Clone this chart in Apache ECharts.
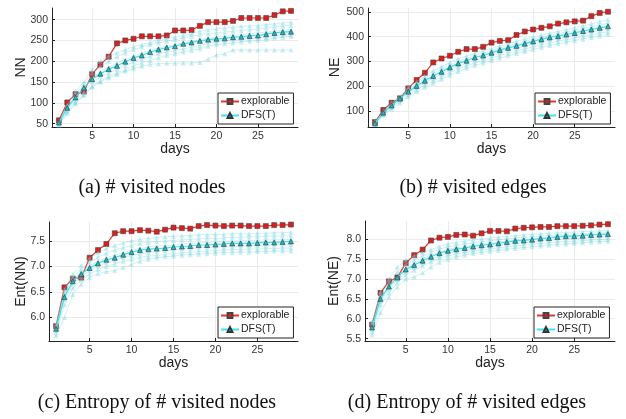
<!DOCTYPE html>
<html>
<head>
	<meta charset="utf-8">
	<title>explorable vs DFS(T)</title>
	<style>
		* { padding: 0; margin: 0; }
		body { background: #fff; }
	</style>
</head>
<body>
	<div id="main" style="width:626px;height:419px;"></div>
<script src="https://cdn.jsdelivr.net/npm/echarts@6/dist/echarts.min.js"></script>
<script>
	var days = [1,2,3,4,5,6,7,8,9,10,11,12,13,14,15,16,17,18,19,20,21,22,23,24,25,26,27,28,29];

	// (a) NN
	var nnExplorable = [58,101,121,127,169,192,211,243,250,254,260,260,260,262,274,274,275,285,294,294,294,297,304,304,304,304,311,320,321];
	var nnDfs = [53,88,113,136,157,170,181,189,199,208,214,222,228,233,236,242,245,249,252,254,255,258,259,261,262,265,268,270,271];
	var nnRuns = [
		[55,95,128,150,180,200,212,220,228,235,240,245,250,255,258,262,266,272,276,278,280,282,284,285,286,288,290,292,294],
		[54,92,120,145,172,188,200,210,220,228,234,240,244,248,252,256,260,264,266,268,270,272,274,276,278,280,282,284,286],
		[53,88,114,136,160,175,186,196,205,212,220,226,232,236,240,244,248,252,255,258,260,262,264,266,268,270,272,274,276],
		[50,82,105,126,150,162,172,180,190,198,205,212,218,222,226,230,234,238,244,246,248,250,252,254,256,258,260,262,264],
		[48,78,100,120,140,152,164,172,180,188,196,202,208,214,218,222,226,230,236,240,242,244,246,248,250,252,256,258,260],
		[46,75,98,118,138,150,160,168,176,182,188,193,194,195,195,196,196,197,205,215,218,227,227,227,227,227,227,227,227]
	];

	// (b) NE
	var neExplorable = [55,104,133,151,191,225,254,296,312,323,339,350,350,359,376,383,386,407,421,429,436,442,453,458,462,465,483,496,501];
	var neDfs = [50,93,122,150,178,201,222,241,258,276,292,303,316,324,335,346,355,363,372,381,389,397,402,409,415,423,429,436,442];
	var neRuns = [
		[56,100,132,160,195,218,240,262,280,296,310,322,333,342,352,362,372,381,390,398,406,414,421,428,436,444,452,460,470],
		[54,97,128,156,188,210,232,252,270,286,300,312,324,333,344,354,364,372,381,390,398,406,412,419,426,433,440,447,455],
		[52,94,124,152,181,204,225,244,262,279,294,306,318,327,338,349,358,366,375,384,392,400,406,413,419,426,432,439,446],
		[49,90,119,146,172,194,214,232,249,266,281,293,305,314,325,336,345,353,362,371,379,387,393,400,406,413,419,426,432],
		[47,86,114,140,165,186,205,222,238,255,270,283,294,304,314,324,333,342,350,359,367,375,382,388,394,401,407,414,420],
		[45,82,108,132,158,177,196,212,228,244,259,272,284,294,304,314,323,332,340,348,356,364,371,378,384,390,397,403,410]
	];

	// (c) Ent(NN)
	var entNnExplorable = [5.83,6.59,6.76,6.78,7.17,7.32,7.44,7.65,7.69,7.69,7.71,7.70,7.68,7.72,7.76,7.75,7.74,7.79,7.81,7.80,7.79,7.80,7.80,7.79,7.79,7.79,7.81,7.81,7.82];
	var entNnDfs = [5.78,6.40,6.71,6.85,6.97,7.06,7.13,7.17,7.23,7.28,7.32,7.34,7.35,7.36,7.38,7.39,7.40,7.42,7.42,7.43,7.44,7.45,7.45,7.45,7.46,7.47,7.47,7.48,7.49];
	var entNnRuns = [
		[5.86,6.55,6.85,7.02,7.16,7.27,7.35,7.41,7.46,7.50,7.53,7.55,7.57,7.58,7.59,7.60,7.61,7.62,7.62,7.63,7.63,7.64,7.64,7.64,7.65,7.65,7.66,7.66,7.67],
		[5.83,6.48,6.79,6.95,7.08,7.18,7.26,7.32,7.37,7.41,7.45,7.47,7.49,7.50,7.51,7.52,7.53,7.54,7.55,7.55,7.56,7.57,7.57,7.58,7.58,7.59,7.59,7.60,7.60],
		[5.80,6.43,6.74,6.89,7.01,7.10,7.17,7.22,7.27,7.32,7.35,7.38,7.40,7.41,7.42,7.44,7.45,7.46,7.47,7.48,7.49,7.50,7.50,7.51,7.51,7.52,7.52,7.53,7.53],
		[5.75,6.35,6.66,6.80,6.92,7.01,7.07,7.12,7.17,7.21,7.25,7.27,7.29,7.31,7.32,7.34,7.35,7.36,7.37,7.38,7.38,7.39,7.40,7.40,7.41,7.41,7.42,7.42,7.43],
		[5.70,6.25,6.58,6.73,6.85,6.94,7.00,7.05,7.10,7.14,7.18,7.20,7.22,7.24,7.25,7.27,7.28,7.29,7.30,7.31,7.32,7.33,7.33,7.34,7.34,7.35,7.35,7.36,7.36],
		[5.65,6.00,6.45,6.65,6.78,6.86,6.90,6.92,6.98,7.04,7.10,7.14,7.17,7.19,7.20,7.22,7.23,7.24,7.25,7.26,7.27,7.27,7.28,7.28,7.29,7.29,7.30,7.30,7.30]
	];

	// (d) Ent(NE)
	var entNeExplorable = [5.85,6.65,6.94,7.04,7.40,7.60,7.74,7.97,8.04,8.06,8.11,8.12,8.09,8.15,8.21,8.21,8.20,8.27,8.29,8.30,8.31,8.31,8.33,8.33,8.33,8.34,8.35,8.37,8.38];
	var entNeDfs = [5.78,6.50,6.81,7.04,7.24,7.35,7.46,7.56,7.65,7.71,7.75,7.78,7.82,7.85,7.87,7.90,7.93,7.96,7.97,7.99,8.02,8.03,8.06,8.08,8.08,8.09,8.11,8.12,8.13];
	var entNeRuns = [
		[5.92,6.68,7.00,7.30,7.48,7.58,7.66,7.74,7.82,7.88,7.92,7.95,7.98,8.01,8.03,8.05,8.07,8.09,8.11,8.12,8.14,8.15,8.16,8.17,8.18,8.19,8.20,8.21,8.22],
		[5.86,6.60,6.92,7.18,7.37,7.48,7.58,7.67,7.75,7.81,7.85,7.88,7.91,7.94,7.96,7.99,8.01,8.03,8.05,8.06,8.08,8.09,8.11,8.12,8.13,8.14,8.15,8.16,8.17],
		[5.80,6.52,6.84,7.08,7.27,7.39,7.50,7.60,7.68,7.74,7.78,7.82,7.85,7.88,7.90,7.93,7.95,7.98,8.00,8.01,8.03,8.05,8.07,8.08,8.09,8.10,8.12,8.13,8.14],
		[5.74,6.44,6.74,6.98,7.17,7.29,7.40,7.50,7.58,7.64,7.69,7.72,7.76,7.79,7.81,7.84,7.87,7.89,7.91,7.93,7.95,7.97,7.99,8.00,8.01,8.02,8.04,8.05,8.06],
		[5.68,6.35,6.65,6.90,7.10,7.22,7.33,7.43,7.52,7.58,7.63,7.67,7.70,7.73,7.76,7.78,7.81,7.83,7.85,7.87,7.89,7.91,7.93,7.94,7.95,7.96,7.98,7.99,8.00],
		[5.60,6.15,6.55,6.80,7.00,7.05,7.15,7.30,7.42,7.50,7.56,7.60,7.64,7.67,7.70,7.72,7.75,7.77,7.79,7.81,7.83,7.85,7.87,7.88,7.90,7.91,7.93,7.94,7.95]
	];

	var panels = [
		{ name: 'NN', expl: nnExplorable, dfs: nnDfs, runs: nnRuns, ymin: 42, ymax: 328, dec: 0,
		  grid: { left: 52, top: 8, width: 246, height: 119 }, gap: 24, legend: { left: 218, top: 93 } },
		{ name: 'NE', expl: neExplorable, dfs: neDfs, runs: neRuns, ymin: 35, ymax: 516, dec: 0,
		  grid: { left: 368, top: 8, width: 247, height: 119 }, gap: 26, legend: { left: 535, top: 93 } },
		{ name: 'Ent(NN)', expl: entNnExplorable, dfs: entNnDfs, runs: entNnRuns, ymin: 5.54, ymax: 7.87, dec: 1,
		  grid: { left: 49, top: 222, width: 249, height: 119 }, gap: 21, legend: { left: 218, top: 307 } },
		{ name: 'Ent(NE)', expl: entNeExplorable, dfs: entNeDfs, runs: entNeRuns, ymin: 5.44, ymax: 8.46, dec: 1,
		  grid: { left: 365, top: 221, width: 250, height: 120 }, gap: 24, legend: { left: 534, top: 307 } }
	];

	var captions = [
		{ text: '(a) # visited nodes', x: 152, y: 188 },
		{ text: '(b) # visited edges', x: 473, y: 188 },
		{ text: '(c) Entropy of # visited nodes', x: 157, y: 403 },
		{ text: '(d) Entropy of # visited edges', x: 467, y: 403 }
	];

	function pairs(vals) {
		return days.map(function (d, i) { return [d, vals[i]]; });
	}

	var font = 'Liberation Sans';
	var grids = [], xAxes = [], yAxes = [], legends = [], series = [];

	panels.forEach(function (p, k) {
		grids.push(p.grid);
		xAxes.push({
			type: 'value', gridIndex: k, min: 0.16, max: 29.84,
			name: 'days', nameLocation: 'middle', nameGap: 15, nameMoveOverlap: false,
			nameTextStyle: { fontFamily: font, fontSize: 14, color: '#222', verticalAlign: 'top' },
			axisLine: { lineStyle: { color: '#222', width: 1 } },
			axisTick: { inside: true, length: 3, lineStyle: { color: '#222' } },
			axisLabel: { showMinLabel: false, showMaxLabel: false, fontFamily: font, fontSize: 10.5, color: '#333', margin: 4 },
			splitLine: { show: true, showMinLine: false, showMaxLine: false, lineStyle: { color: '#ebebeb', width: 1 } }
		});
		yAxes.push({
			type: 'value', gridIndex: k, min: p.ymin, max: p.ymax,
			name: p.name, nameLocation: 'middle', nameGap: p.gap, nameMoveOverlap: false,
			nameTextStyle: { fontFamily: font, fontSize: 14, color: '#222' },
			axisLine: { show: true, lineStyle: { color: '#222', width: 1 } },
			axisTick: { show: true, inside: true, length: 3, lineStyle: { color: '#222' } },
			axisLabel: {
				showMinLabel: false, showMaxLabel: false, fontFamily: font, fontSize: 10.5, color: '#333', margin: 4,
				formatter: function (v) { return v.toFixed(p.dec); }
			},
			splitLine: { show: true, showMinLine: false, showMaxLine: false, lineStyle: { color: '#ebebeb', width: 1 } }
		});
		legends.push({
			orient: 'vertical', left: p.legend.left, top: p.legend.top,
			data: ['explorable', 'DFS(T)'],
			backgroundColor: '#fff', borderColor: '#222', borderWidth: 1, borderRadius: 0,
			padding: [3, 4, 3, 2], itemGap: 3, itemWidth: 18, itemHeight: 6,
			textStyle: { fontFamily: font, fontSize: 10.5, color: '#222', padding: [0, 0, 0, -3] }
		});

		series.push({
			name: 'explorable', type: 'line', xAxisIndex: k, yAxisIndex: k,
			data: pairs(p.expl), symbol: 'rect', symbolSize: 5,
			lineStyle: { color: '#e8352e', width: 1.2 },
			itemStyle: { color: '#d91f1f', borderColor: '#444', borderWidth: 0.6 },
			animation: false, z: 3
		});
		p.runs.forEach(function (r) {
			series.push({
				name: 'run', type: 'line', xAxisIndex: k, yAxisIndex: k, silent: true,
				data: pairs(r), symbol: 'triangle', symbolSize: 5,
				lineStyle: { color: 'rgba(110,215,225,0.35)', width: 1 },
				itemStyle: { color: 'rgba(120,210,220,0.4)', borderWidth: 0 },
				animation: false, z: 4
			});
		});
		series.push({
			name: 'DFS(T)', type: 'line', xAxisIndex: k, yAxisIndex: k,
			data: pairs(p.dfs), symbol: 'triangle', symbolSize: 5,
			lineStyle: { color: '#3ee3f0', width: 1.2 },
			itemStyle: { color: '#1fb8c4', borderColor: '#333', borderWidth: 0.6 },
			animation: false, z: 5
		});
	});

	var chart = echarts.init(document.getElementById('main'));
	chart.setOption({
		animation: false,
		grid: grids,
		xAxis: xAxes,
		yAxis: yAxes,
		legend: legends,
		series: series,
		graphic: captions.map(function (c) {
			return {
				type: 'text', x: c.x, y: c.y,
				style: { text: c.text, fontFamily: 'Liberation Serif', fontSize: 20, fill: '#111', align: 'center', verticalAlign: 'middle' }
			};
		})
	});
</script>
</body>
</html>
